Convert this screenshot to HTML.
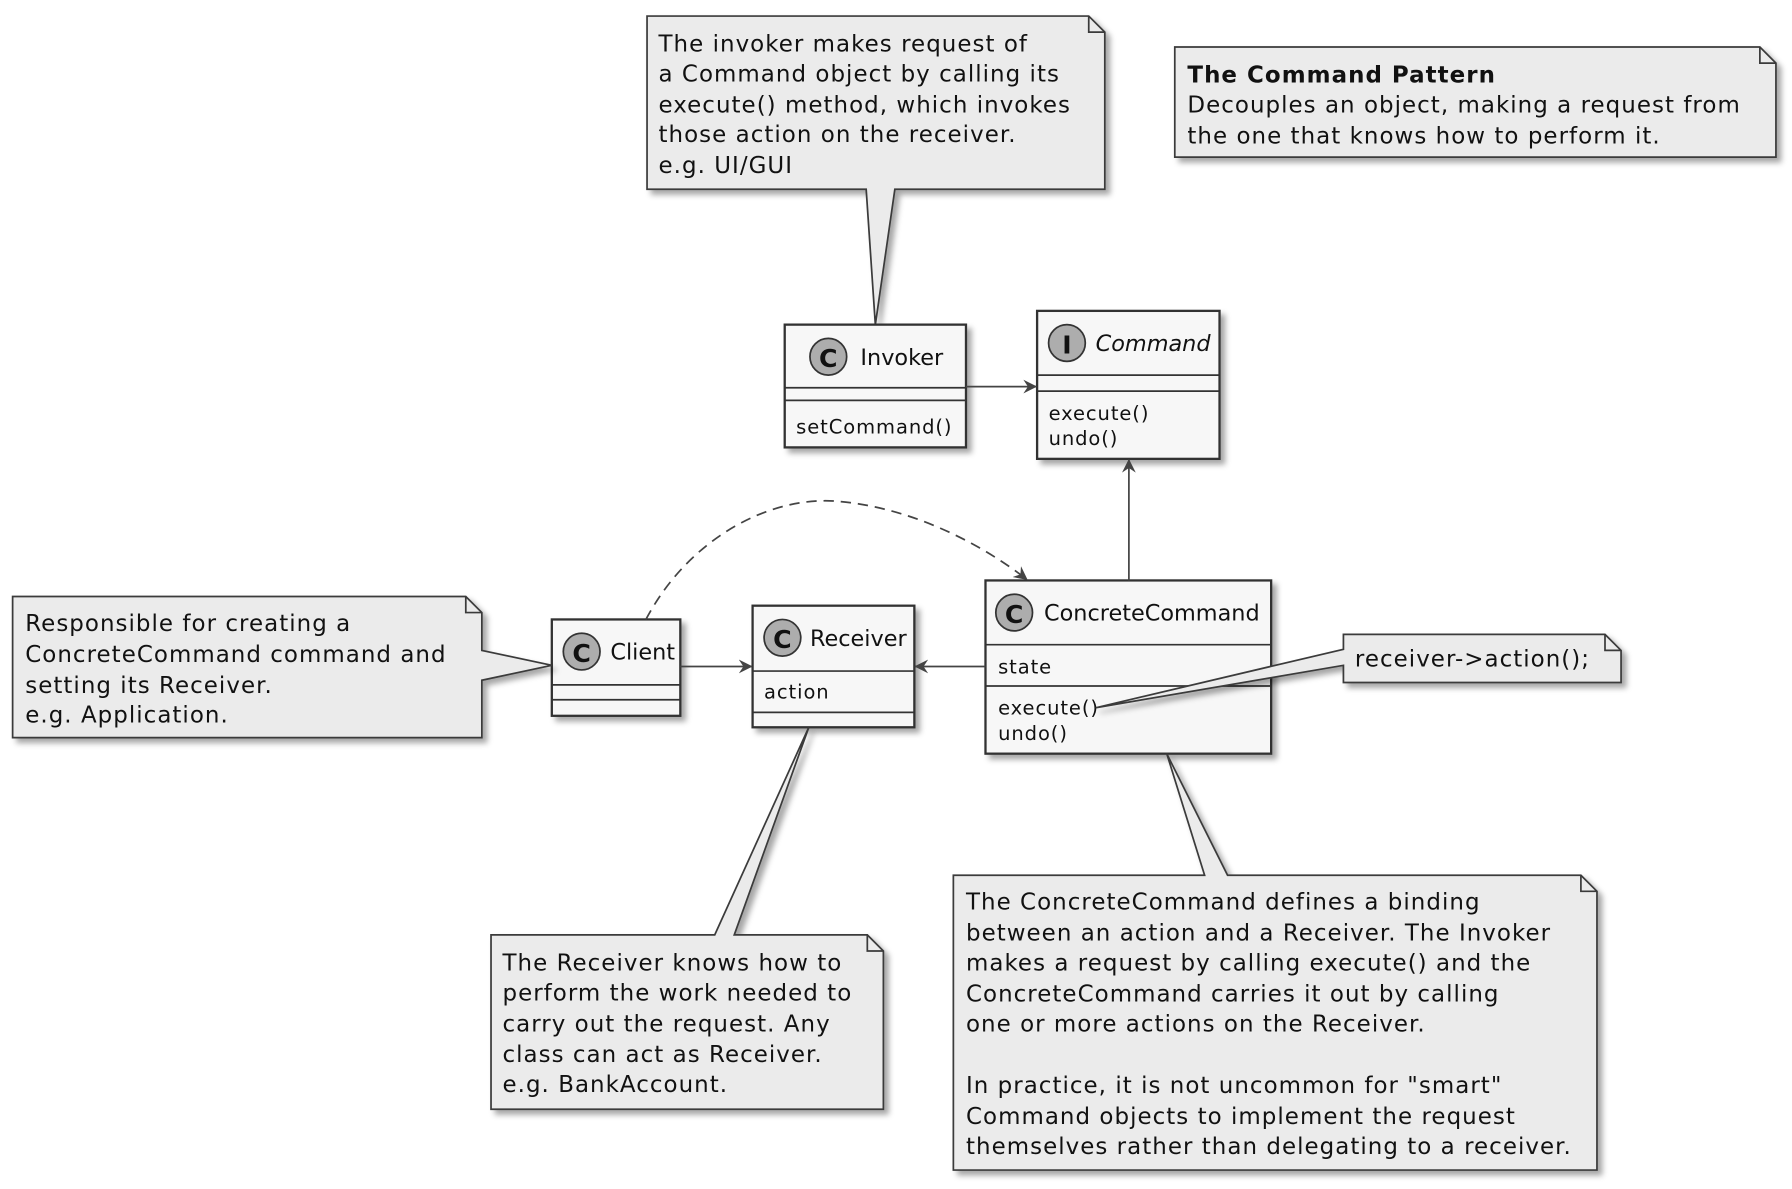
<!DOCTYPE html>
<html><head><meta charset="utf-8"><style>
html,body{margin:0;padding:0;background:#fff;}
svg{display:block;}
text{font-family:"DejaVu Sans","Liberation Sans",sans-serif;fill:#111;}
.n{font-size:20px;letter-spacing:0.9px;}
.c{font-size:17px;letter-spacing:0.8px;}
.h{font-size:19.5px;}
.note{fill:#ebebeb;stroke:#3a3a3a;stroke-width:1.5;filter:url(#sh);}
.cls{fill:#f7f7f7;stroke:#333;stroke-width:2;filter:url(#sh);}
.ln{stroke:#333;stroke-width:1.5;}
.ar{stroke:#444;stroke-width:1.5;fill:none;}
</style></head><body>
<svg width="1792" height="1189" viewBox="0 0 1562 1036.5" preserveAspectRatio="none" xmlns="http://www.w3.org/2000/svg">
<defs>
<filter id="sh" x="-10%" y="-10%" width="130%" height="130%"><feDropShadow dx="4" dy="4" stdDeviation="2.5" flood-color="#000" flood-opacity="0.35"/></filter>
<marker id="ah" markerWidth="12" markerHeight="12" refX="11" refY="6" orient="auto" markerUnits="userSpaceOnUse"><path d="M0,0 L12,6 L0,12 L4,6 Z" fill="#444"/></marker>
</defs>

<path class="note" d="M564,14 L949,14 L963,28 L963,165 L780,165 L763,283 L755,165 L564,165 Z"/>
<path d="M949,14 L949,28 L963,28" fill="none" stroke="#3a3a3a" stroke-width="1.5"/>
<text class="n" x="574" y="45">The invoker makes request of</text>
<text class="n" x="574" y="71">a Command object by calling its</text>
<text class="n" x="574" y="98">execute() method, which invokes</text>
<text class="n" x="574" y="124">those action on the receiver.</text>
<text class="n" x="574" y="151">e.g. UI/GUI</text>

<path class="note" d="M1024,41 L1534,41 L1548,55 L1548,137 L1024,137 Z"/>
<path d="M1534,41 L1534,55 L1548,55" fill="none" stroke="#3a3a3a" stroke-width="1.5"/>
<text class="n" x="1035" y="72" font-weight="bold">The Command Pattern</text>
<text class="n" x="1035" y="98">Decouples an object, making a request from</text>
<text class="n" x="1035" y="125">the one that knows how to perform it.</text>

<rect class="cls" x="684" y="283" width="158" height="107"/>
<line class="ln" x1="684" y1="338" x2="842" y2="338"/>
<line class="ln" x1="684" y1="349" x2="842" y2="349"/>
<circle cx="722" cy="311" r="16" fill="#adadad" stroke="#333" stroke-width="1.5"/>
<text x="722" y="320" text-anchor="middle" font-size="22" font-weight="bold">C</text>
<text class="h" x="750" y="318">Invoker</text>
<text class="c" x="694" y="378">setCommand()</text>

<rect class="cls" x="904" y="271" width="159" height="129"/>
<line class="ln" x1="904" y1="327" x2="1063" y2="327"/>
<line class="ln" x1="904" y1="341" x2="1063" y2="341"/>
<circle cx="930" cy="299" r="16" fill="#adadad" stroke="#333" stroke-width="1.5"/>
<text x="930" y="308" text-anchor="middle" font-size="22" font-weight="bold" font-family="Liberation Serif,serif">I</text>
<text class="h" x="955" y="306" font-style="italic">Command</text>
<text class="c" x="914" y="366">execute()</text>
<text class="c" x="914" y="388">undo()</text>

<line class="ar" x1="842" y1="337" x2="903" y2="337" marker-end="url(#ah)"/>

<rect class="cls" x="859" y="506" width="249" height="151"/>
<line class="ln" x1="859" y1="562" x2="1108" y2="562"/>
<line class="ln" x1="859" y1="598" x2="1108" y2="598"/>
<circle cx="884" cy="534" r="16" fill="#adadad" stroke="#333" stroke-width="1.5"/>
<text x="884" y="543" text-anchor="middle" font-size="22" font-weight="bold">C</text>
<text class="h" x="910" y="541">ConcreteCommand</text>
<text class="c" x="870" y="587">state</text>
<text class="c" x="870" y="623">execute()</text>
<text class="c" x="870" y="645">undo()</text>

<line class="ar" x1="984" y1="506" x2="984" y2="401" marker-end="url(#ah)"/>

<rect class="cls" x="656" y="528" width="141" height="106"/>
<line class="ln" x1="656" y1="585" x2="797" y2="585"/>
<line class="ln" x1="656" y1="621" x2="797" y2="621"/>
<circle cx="682" cy="556" r="16" fill="#adadad" stroke="#333" stroke-width="1.5"/>
<text x="682" y="565" text-anchor="middle" font-size="22" font-weight="bold">C</text>
<text class="h" x="706" y="563">Receiver</text>
<text class="c" x="666" y="609">action</text>

<line class="ar" x1="859" y1="581" x2="798" y2="581" marker-end="url(#ah)"/>

<rect class="cls" x="481" y="540" width="112" height="84"/>
<line class="ln" x1="481" y1="597" x2="593" y2="597"/>
<line class="ln" x1="481" y1="610" x2="593" y2="610"/>
<circle cx="507" cy="568" r="16" fill="#adadad" stroke="#333" stroke-width="1.5"/>
<text x="507" y="577" text-anchor="middle" font-size="22" font-weight="bold">C</text>
<text class="h" x="532" y="575">Client</text>

<line class="ar" x1="593" y1="581" x2="655" y2="581" marker-end="url(#ah)"/>

<path class="ar" d="M563,540 C600,470 670,432 730,437 C800,443 860,478 895,505" stroke-dasharray="9,6" marker-end="url(#ah)"/>

<path class="note" d="M11,520 L406,520 L420,534 L420,567 L481,580 L420,593 L420,643 L11,643 Z"/>
<path d="M406,520 L406,534 L420,534" fill="none" stroke="#3a3a3a" stroke-width="1.5"/>
<text class="n" x="22" y="550">Responsible for creating a</text>
<text class="n" x="22" y="577">ConcreteCommand command and</text>
<text class="n" x="22" y="604">setting its Receiver.</text>
<text class="n" x="22" y="630">e.g. Application.</text>

<path class="note" d="M428,815 L623,815 L705,634 L640,815 L756,815 L770,829 L770,967 L428,967 Z"/>
<path d="M756,815 L756,829 L770,829" fill="none" stroke="#3a3a3a" stroke-width="1.5"/>
<text class="n" x="438" y="846">The Receiver knows how to</text>
<text class="n" x="438" y="872">perform the work needed to</text>
<text class="n" x="438" y="899">carry out the request. Any</text>
<text class="n" x="438" y="926">class can act as Receiver.</text>
<text class="n" x="438" y="952">e.g. BankAccount.</text>

<path class="note" d="M831,763 L1050,763 L1017,657 L1070,763 L1378,763 L1392,777 L1392,1020 L831,1020 Z"/>
<path d="M1378,763 L1378,777 L1392,777" fill="none" stroke="#3a3a3a" stroke-width="1.5"/>
<text class="n" x="842" y="793">The ConcreteCommand defines a binding</text>
<text class="n" x="842" y="820">between an action and a Receiver. The Invoker</text>
<text class="n" x="842" y="846">makes a request by calling execute() and the</text>
<text class="n" x="842" y="873">ConcreteCommand carries it out by calling</text>
<text class="n" x="842" y="899">one or more actions on the Receiver.</text>
<text class="n" x="842" y="953">In practice, it is not uncommon for "smart"</text>
<text class="n" x="842" y="980">Command objects to implement the request</text>
<text class="n" x="842" y="1006">themselves rather than delegating to a receiver.</text>

<path class="note" d="M1171,553 L1399,553 L1413,567 L1413,595 L1171,595 L1171,580 L955,617 L1171,566 Z"/>
<path d="M1399,553 L1399,567 L1413,567" fill="none" stroke="#3a3a3a" stroke-width="1.5"/>
<text class="n" x="1181" y="581">receiver-&gt;action();</text>
</svg>
</body></html>
